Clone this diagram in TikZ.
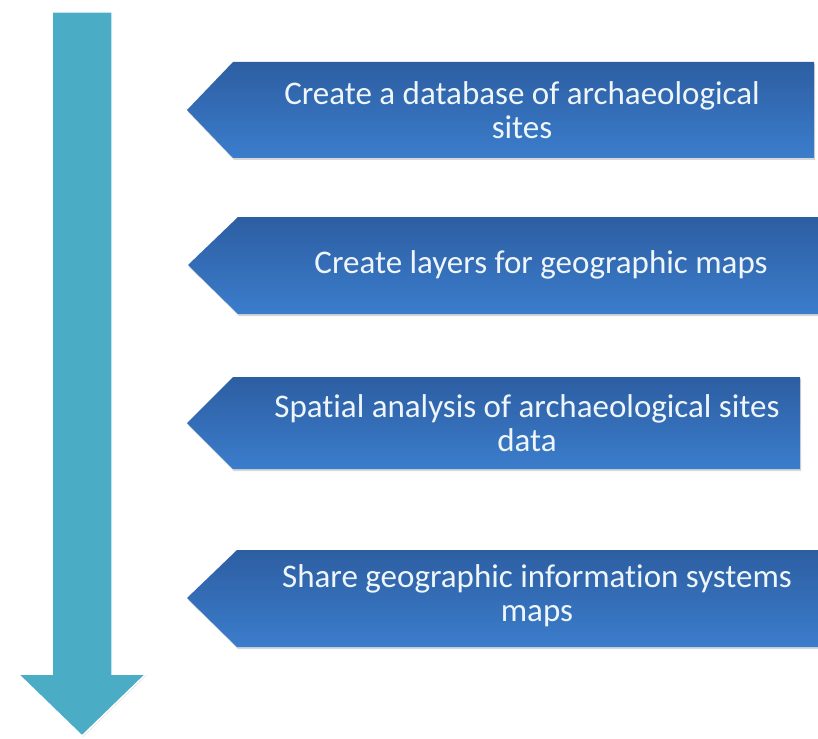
\documentclass[tikz,border=0pt]{standalone}
\usepackage{fontspec}
\setmainfont[Ligatures=NoCommon]{Carlito}
\usetikzlibrary{shadows}

\definecolor{arrowblue}{HTML}{4BACC6}
\definecolor{boxtop}{HTML}{2D5EA2}
\definecolor{boxbottom}{HTML}{3B7DCC}
\definecolor{textwhite}{HTML}{EEF6FA}

\tikzset{
	stepbox/.style={top color=boxtop, bottom color=boxbottom, draw=none,
		drop shadow={shadow xshift=1pt, shadow yshift=-2pt, opacity=0.35, fill=black!45}},
	steptext/.style={text=textwhite, font=\fontsize{33}{34}\selectfont, align=center}
}

\begin{document}
\begin{tikzpicture}[x=1pt, y=-1pt]
	\useasboundingbox (0,0) rectangle (818,738);
	\clip (0,0) rectangle (818,738);
	
	%%% Стрелка
	\draw[draw=white, line width=1.5pt, fill=arrowblue,
		drop shadow={shadow xshift=1pt, shadow yshift=-1pt, opacity=0.3, fill=black!40}]
		(52,12) -- (112,12) -- (112,674) -- (146,674) -- (82,736) -- (18,674) -- (52,674) -- cycle;
	
	%%% Фигуры
	
	% Первый шаг
	\shade[stepbox] (187,110) -- (233,62) -- (814,62) -- (814,158) -- (233,158) -- cycle;
	
	% Второй шаг
	\shade[stepbox] (188,265) -- (238,217) -- (840,217) -- (840,314) -- (238,314) -- cycle;
	
	% Третий шаг
	\shade[stepbox] (187,423) -- (233,377) -- (800,377) -- (800,469) -- (233,469) -- cycle;
	
	% Четвертый шаг
	\shade[stepbox] (187,598) -- (237,550) -- (840,550) -- (840,647) -- (237,647) -- cycle;
	
	%%% Подписи
	
	\node[steptext] (database) at (522,110) {Create a database of archaeological\\sites};
	\node[steptext] (layers) at (541,265) {Create layers for geographic maps};
	\node[steptext] (analysis) at (527,423) {Spatial analysis of archaeological sites\\data};
	\node[steptext] (share) at (537,596) {Share geographic information systems\\maps};
\end{tikzpicture}
\end{document}
